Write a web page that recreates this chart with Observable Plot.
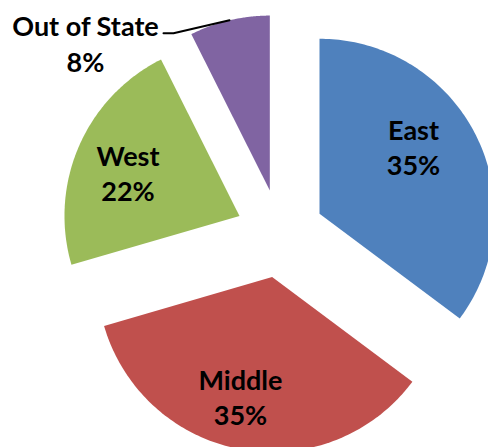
<!DOCTYPE html>
<html>
<head>
<meta charset="utf-8">
<script src="https://cdn.jsdelivr.net/npm/d3@7"></script>
<script src="https://cdn.jsdelivr.net/npm/@observablehq/plot@0.6"></script>
<style>
  html, body { margin: 0; padding: 0; background: white; overflow: hidden; }
  svg { overflow: hidden !important; }
</style>
</head>
<body>
<div id="chart"></div>
<script>
// ---- data (shares; labels as printed) ----
const categories = ["East", "Middle", "West", "Out of State"];
const shares = [35.2, 35.3, 22.1, 7.4];
const percentLabels = ["35%", "35%", "22%", "8%"];
const colors = ["#4F81BD", "#C0504D", "#9BBB59", "#8064A2"];

// ---- layout (pixels / degrees) ----
const W = 488, H = 447;
const cx = 279.5, cy = 233.1, R = 175, explode = 44.2;
const labelR = [115.6, 123.4, 119.6];
const labelTurn = [-9, 4.6, -2.4];
const outsideIndex = 3; // label drawn outside with a leader line

const arcs = d3.pie().sort(null).value(d => d.share)(
  categories.map((c, i) => ({ category: c, share: shares[i], label: percentLabels[i] }))
);
const pt = (x0, y0, r, a) => [x0 + r * Math.sin(a), y0 - r * Math.cos(a)];

const polys = [];
const labels = [];
const leader = [];
arcs.forEach((a, i) => {
  const mid = (a.startAngle + a.endAngle) / 2;
  const [ax, ay] = pt(cx, cy, explode, mid);
  polys.push({ category: a.data.category, x: ax, y: ay });
  const n = 120;
  for (let k = 0; k <= n; k++) {
    const t = a.startAngle + (a.endAngle - a.startAngle) * k / n;
    const [x, y] = pt(ax, ay, R, t);
    polys.push({ category: a.data.category, x, y });
  }
  if (i === outsideIndex) {
    const [ox, oy] = pt(ax, ay, R, mid);
    const ex = ox - 56, ey = oy + 13;
    leader.push({ x: ox, y: oy }, { x: ex, y: ey }, { x: ex - 10, y: ey });
    labels.push({ text: a.data.category + "\n" + a.data.label, x: ex - 88, y: ey + 9.5 });
  } else {
    const [lx, ly] = pt(ax, ay, labelR[i], mid + labelTurn[i] * Math.PI / 180);
    labels.push({ text: a.data.category + "\n" + a.data.label, x: lx, y: ly });
  }
});

const chart = Plot.plot({
  width: W, height: H, margin: 0,
  x: { domain: [0, W], range: [0, W], axis: null },
  y: { domain: [0, H], range: [0, H], axis: null },
  color: { domain: categories, range: colors },
  style: { background: "white" },
  marks: [
    Plot.line(polys, { x: "x", y: "y", z: "category", fill: "category", stroke: null, curve: "linear" }),
    Plot.line(leader, { x: "x", y: "y", stroke: "black", strokeWidth: 2 }),
    Plot.text(labels, {
      x: "x", y: "y", text: "text",
      fontFamily: "Lato", fontWeight: "bold", fontSize: 27,
      lineHeight: 1.3, fill: "black", textAnchor: "middle", lineAnchor: "middle"
    })
  ]
});
document.getElementById("chart").appendChild(chart);
</script>
</body>
</html>
